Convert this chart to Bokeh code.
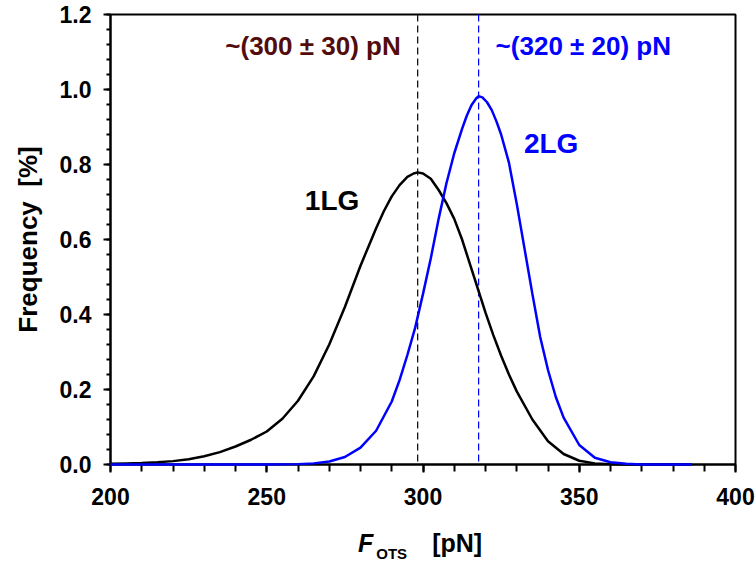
from bokeh.plotting import figure
from bokeh.models import FixedTicker, PrintfTickFormatter, Span, Label, Range1d, Div
from bokeh.layouts import column
from bokeh.embed import file_html
from bokeh.resources import INLINE

# ---- data ----
force_1lg = [200, 205, 210, 215, 220, 225, 230, 235, 240, 245, 250, 255, 260, 265, 270, 275,
             280, 282.5, 285, 287.5, 290, 292.5, 295, 297, 298.3, 300, 302.5, 305, 307.5, 310,
             312.5, 315, 317.5, 320, 322.5, 325, 327.5, 330, 335, 340, 345, 350, 355, 360,
             365, 370, 375, 380, 386]
freq_1lg = [0.002, 0.003, 0.004, 0.006, 0.009, 0.014, 0.022, 0.033, 0.048, 0.066, 0.088, 0.122,
            0.170, 0.235, 0.320, 0.420, 0.530, 0.580, 0.630, 0.676, 0.715, 0.745, 0.767, 0.776,
            0.779, 0.776, 0.762, 0.732, 0.697, 0.655, 0.600, 0.535, 0.470, 0.405, 0.345, 0.290,
            0.240, 0.195, 0.120, 0.062, 0.028, 0.010, 0.003, 0.001, 0.000, 0.000, 0.000, 0.000,
            0.000]

force_2lg = [200, 210, 220, 230, 240, 250, 260, 265, 270, 275, 280, 285, 290, 292.5, 295, 297.5,
             300, 302.5, 305, 307.5, 310, 312.5, 314, 315.5, 317, 317.8, 319, 320.5, 322, 323.5,
             325, 327.5, 330, 332.5, 335, 337.5, 340, 342.5, 345, 350, 355, 360, 365, 370, 375,
             380, 386]
freq_2lg = [0.000, 0.000, 0.000, 0.000, 0.000, 0.000, 0.001, 0.003, 0.008, 0.020, 0.045, 0.090,
            0.168, 0.225, 0.292, 0.365, 0.455, 0.550, 0.655, 0.750, 0.830, 0.895, 0.930, 0.958,
            0.976, 0.982, 0.979, 0.966, 0.945, 0.915, 0.880, 0.805, 0.695, 0.575, 0.455, 0.340,
            0.252, 0.180, 0.125, 0.052, 0.018, 0.006, 0.002, 0.000, 0.000, 0.000, 0.000]

peak_1lg = 298.3
peak_2lg = 317.8
label_1lg = "~(300 ± 30) pN"
label_2lg = "~(320 ± 20) pN"
x_ticks = [200, 250, 300, 350, 400]
x_minor = list(range(200, 401, 10))
y_ticks = [0.0, 0.2, 0.4, 0.6, 0.8, 1.0, 1.2]
y_minor = [round(i * 0.04, 2) for i in range(0, 31)]

BLUE = "#0000FF"
MAROON = "#520c0c"
FONT = "Liberation Sans"

p = figure(width=756, height=525, output_backend="svg", toolbar_location=None,
           x_range=Range1d(200, 400), y_range=Range1d(0, 1.2),
           min_border_left=110, min_border_right=21, min_border_top=14, min_border_bottom=61)
p.background_fill_color = "white"
p.border_fill_color = "white"
p.outline_line_color = "black"
p.outline_line_width = 2
p.xgrid.visible = False
p.ygrid.visible = False

for ax in (p.xaxis, p.yaxis):
    ax.axis_line_color = "black"
    ax.axis_line_width = 2
    ax.major_tick_line_color = "black"
    ax.major_tick_line_width = 2
    ax.minor_tick_line_color = "black"
    ax.minor_tick_line_width = 2
    ax.major_tick_in = 0
    ax.minor_tick_in = 0
    ax.major_label_text_font = FONT
    ax.major_label_text_font_style = "bold"
    ax.major_label_text_font_size = "23px"
    ax.major_label_text_color = "black"

p.xaxis.ticker = FixedTicker(ticks=x_ticks, minor_ticks=x_minor)
p.xaxis.major_tick_out = 8
p.xaxis.minor_tick_out = 7
p.xaxis.major_label_standoff = 15

p.yaxis.ticker = FixedTicker(ticks=y_ticks, minor_ticks=y_minor)
p.yaxis.formatter = PrintfTickFormatter(format="%.1f")
p.yaxis.major_tick_out = 7
p.yaxis.minor_tick_out = 4
p.yaxis.major_label_standoff = 12
p.yaxis.axis_label = "Frequency\u00a0\u00a0[%]"
p.yaxis.axis_label_text_font = FONT
p.yaxis.axis_label_text_font_style = "bold"
p.yaxis.axis_label_text_font_size = "26px"
p.yaxis.axis_label_text_color = "black"
p.yaxis.axis_label_standoff = 14

# dashed peak markers
p.add_layout(Span(location=peak_1lg, dimension="height", line_color="black",
                  line_width=1.2, line_dash="7 4"))
p.add_layout(Span(location=peak_2lg, dimension="height", line_color=BLUE,
                  line_width=1.2, line_dash="7 4"))

# curves (drawn above the axis line, as in the reference)
p.line(force_1lg, freq_1lg, line_color="black", line_width=2.5, level="overlay")
p.line(force_2lg, freq_2lg, line_color=BLUE, line_width=2.5, level="overlay")

# annotations
p.add_layout(Label(x=264.8, y=1.116, text=label_1lg, text_align="center", text_baseline="middle",
                   text_font=FONT, text_font_style="bold", text_font_size="26px",
                   text_color=MAROON))
p.add_layout(Label(x=351.3, y=1.116, text=label_2lg, text_align="center", text_baseline="middle",
                   text_font=FONT, text_font_style="bold", text_font_size="26px",
                   text_color=BLUE))
p.add_layout(Label(x=270.9, y=0.705, text="1LG", text_align="center", text_baseline="middle",
                   text_font=FONT, text_font_style="bold", text_font_size="28px",
                   text_color="black"))
p.add_layout(Label(x=341.0, y=0.857, text="2LG", text_align="center", text_baseline="middle",
                   text_font=FONT, text_font_style="bold", text_font_size="28px",
                   text_color=BLUE))

# x-axis title: F_OTS [pN]  (placed below the plot as real text)
title_html = (
    '<div style="font-family:\'Liberation Sans\',Arial,sans-serif;font-weight:bold;'
    'font-size:25px;line-height:28px;color:black;white-space:nowrap;">'
    '<i>F</i><span style="font-size:15px;position:relative;top:7px;margin-left:3px;">OTS</span>'
    '<span style="margin-left:25px;">[pN]</span></div>'
)
xtitle = Div(text=title_html, width=756, height=40,
             styles={"padding-left": "358px", "padding-top": "4px", "margin": "0"})

layout = column(p, xtitle, spacing=0)
open("out.html", "w").write(file_html(layout, INLINE))
